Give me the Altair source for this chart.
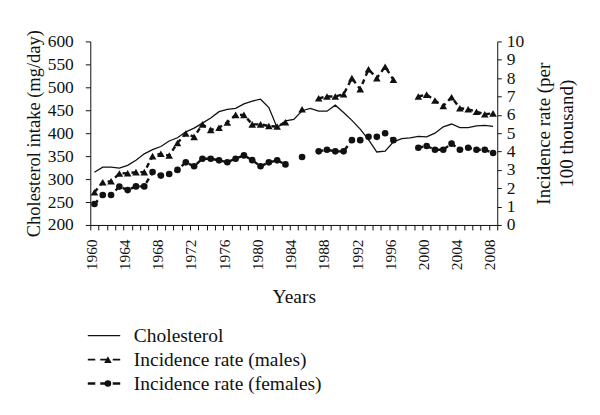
import altair as alt
import pandas as pd

# ---------------- data ----------------
years = list(range(1960, 2009))

cholesterol = [315, 326, 326, 324, 330, 341, 355, 364, 371, 383,
               390, 403, 411, 422, 433, 447, 452, 454, 464, 470,
               474, 456, 412, 427, 430, 449, 454, 448, 448, 461,
               445, 428, 409, 386, 359, 361, 381, 388, 390, 393,
               392, 400, 414, 420, 412, 412, 416, 417, 415]

males = [1.78, 2.33, 2.38, 2.80, 2.82, 2.88, 2.88, 3.75, 3.88, 3.78,
         4.47, 4.98, 4.80, 5.48, 5.18, 5.30, 5.58, 6.00, 6.00, 5.48,
         5.48, 5.39, 5.36, 5.60, None, 6.30, None, 6.90, 7.00, 7.00,
         7.12, 8.00, 7.40, 8.48, 8.00, 8.62, 7.91, None, None, 7.00,
         7.10, 6.78, 6.48, 6.96, 6.36, 6.30, 6.17, 6.03, 6.08]

females = [1.14, 1.63, 1.63, 2.09, 1.90, 2.10, 2.10, 2.88, 2.69, 2.78,
           3.00, 3.41, 3.20, 3.61, 3.61, 3.52, 3.42, 3.61, 3.79, 3.53,
           3.20, 3.41, 3.52, 3.30, None, 3.70, None, 4.01, 4.10, 4.01,
           4.01, 4.62, 4.62, 4.80, 4.80, 5.00, 4.62, None, None, 4.21,
           4.30, 4.10, 4.10, 4.43, 4.10, 4.21, 4.10, 4.10, 3.92]

series_names = ["Cholesterol", "Incidence rate (males)", "Incidence rate (females)"]
left_ticks = [200, 250, 300, 350, 400, 450, 500, 550, 600]
right_ticks = list(range(0, 11))
x_tick_bounds = [y - 0.5 for y in years] + [2008.5]

# ---------------- styling ----------------
FONT = "Liberation Serif"
INK = "#111111"

chol_df = pd.DataFrame({"year": years, "value": cholesterol})
inc_df = pd.DataFrame({
    "year": years + years,
    "rate": males + females,
    "series": [series_names[1]] * len(years) + [series_names[2]] * len(years),
})

x_scale = alt.Scale(domain=[1959.5, 2008.5], nice=False, zero=False)

x_axis = alt.Axis(
    values=x_tick_bounds,
    labelExpr="(datum.value + 0.5) % 4 == 0 ? format(datum.value + 0.5, 'd') : ''",
    labelAngle=-90, labelFont=FONT, labelFontSize=15.5, labelColor=INK,
    labelPadding=9, labelFlush=False, labelOverlap=False, labelOffset=1,
    tickSize=5, tickColor=INK, domainColor=INK, grid=False,
    title="Years", titleFont=FONT, titleFontSize=19.5, titleFontWeight="normal",
    titleColor=INK, titlePadding=18,
)

left_axis = alt.Axis(
    orient="left", values=left_ticks, grid=False,
    labelFont=FONT, labelFontSize=17.5, labelColor=INK, labelPadding=12,
    tickSize=5, tickColor=INK, domainColor=INK,
    title="Cholesterol intake (mg/day)", titleFont=FONT, titleFontSize=18.5,
    titleFontWeight="normal", titleColor=INK, titlePadding=4,
)

right_axis = alt.Axis(
    orient="right", values=right_ticks, grid=False,
    labelFont=FONT, labelFontSize=17.5, labelColor=INK, labelPadding=5,
    tickSize=4, tickColor=INK, domainColor=INK,
    title=["Incidence rate (per", "100 thousand)"], titleFont=FONT,
    titleFontSize=19, titleFontWeight="normal", titleColor=INK,
    titleAngle=270, titleBaseline="top", titleLineHeight=23, titlePadding=-12,
)

shape_enc = alt.Shape("series:N", scale=alt.Scale(domain=series_names[1:], range=["triangle-up", "circle"]), legend=None)
size_enc = alt.Size("series:N", scale=alt.Scale(domain=series_names[1:], range=[58, 44]), legend=None)

chol = alt.Chart(chol_df).mark_line(color=INK, strokeWidth=1.3).encode(
    x=alt.X("year:Q", scale=x_scale, axis=x_axis),
    y=alt.Y("value:Q", scale=alt.Scale(domain=[200, 600], nice=False, zero=False), axis=left_axis),
)

inc_base = alt.Chart(inc_df).encode(
    x=alt.X("year:Q", scale=x_scale, axis=x_axis),
    y=alt.Y("rate:Q", scale=alt.Scale(domain=[0, 10], nice=False), axis=right_axis),
)
inc_line = inc_base.mark_line(color=INK, strokeWidth=2.4, strokeDash=[5, 4]).encode(detail="series:N")
inc_pts = inc_base.mark_point(filled=True, color=INK, opacity=1).encode(shape=shape_enc, size=size_enc)

main = alt.layer(chol, alt.layer(inc_line, inc_pts)).resolve_scale(y="independent")

# ---------------- legend (below the plot) ----------------
leg_line_df = pd.DataFrame({"series": [s for s in series_names for _ in (0, 1)], "lx": [0, 1] * 3})
leg_pt_df = pd.DataFrame({"series": series_names[1:], "lx": [0.62, 0.62]})
leg_txt_df = pd.DataFrame({"series": series_names, "lx": [1.42] * 3})

leg_x = alt.Scale(domain=[0, 1], range=[-2.5, 30])
leg_y = alt.Y("series:N", scale=alt.Scale(type="point", domain=series_names, range=[295, 343], padding=0), axis=None)

leg_lines = alt.Chart(leg_line_df).mark_line(color=INK).encode(
    x=alt.X("lx:Q", scale=leg_x, axis=None), y=leg_y, detail="series:N",
    strokeDash=alt.StrokeDash("series:N", scale=alt.Scale(domain=series_names, range=[[1, 0], [7.5, 5], [7.5, 5]]), legend=None),
    strokeWidth=alt.StrokeWidth("series:N", scale=alt.Scale(domain=series_names, range=[1.3, 2.5, 2.5]), legend=None),
)
leg_pts = alt.Chart(leg_pt_df).mark_point(filled=True, color=INK, opacity=1).encode(
    x=alt.X("lx:Q", scale=leg_x, axis=None), y=leg_y, shape=shape_enc, size=size_enc,
)
leg_txt = alt.Chart(leg_txt_df).mark_text(align="left", baseline="middle", font=FONT, fontSize=19.5, color=INK).encode(
    x=alt.X("lx:Q", scale=leg_x, axis=None), y=leg_y, text="series:N",
)
legend = alt.layer(leg_lines, leg_pts, leg_txt)

chart = (
    alt.layer(main, legend)
    .resolve_scale(x="independent", y="independent")
    .properties(
        width=408, height=184,
        padding={"left": 82.5, "top": 33, "right": 95, "bottom": 182},
        autosize=alt.AutoSizeParams(type="none"),
        background="white",
    )
    .configure_view(stroke=None)
)

chart.save("out.html", embed_options={"renderer": "svg", "actions": False})
